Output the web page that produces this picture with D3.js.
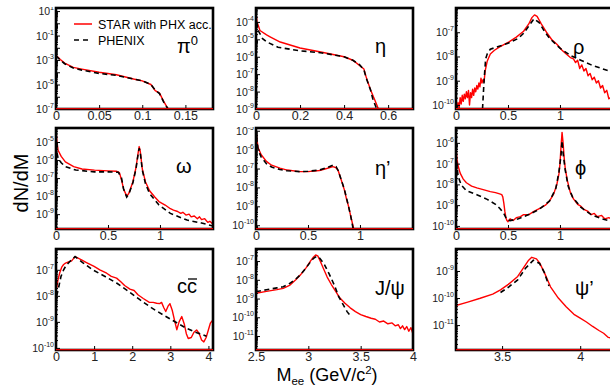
<!DOCTYPE html>
<html><head><meta charset="utf-8">
<script src="https://cdn.jsdelivr.net/npm/d3@7"></script>
<style>
body{margin:0;background:#fff}
svg{display:block}
text{font-family:"Liberation Sans",Arial,sans-serif}
</style>
</head><body>
<svg id="c" width="610" height="389"></svg>
<script>
// ---------- data ----------
const seriesNames = ["STAR with PHX acc.", "PHENIX"];
const panelLabels = ["π0", "η", "ρ", "ω", "η’", "ϕ", "cc̄", "J/ψ", "ψ’"];

const pi0StarM = [0,0.005,0.01,0.02,0.03,0.05,0.07,0.09,0.1,0.11,0.115,0.12,0.125,0.13,0.182];
const pi0StarY = [2.5e-3,1.1e-3,5.6e-4,2.5e-4,1.8e-4,1e-4,6.3e-5,2.8e-5,2e-5,1e-5,3.2e-6,2e-6,4e-7,1e-7,1e-7];
const pi0PhxM = [0,0.005,0.01,0.02,0.03,0.05,0.07,0.09,0.1,0.11,0.115,0.12,0.125,0.13];
const pi0PhxY = [2.2e-3,1e-3,5e-4,2.2e-4,1.5e-4,8e-5,5.6e-5,2.8e-5,2e-5,1e-5,3.5e-6,1.8e-6,3.5e-7,1e-7];

const etaStarM = [0,0.005,0.018,0.048,0.064,0.11,0.2,0.3,0.4,0.44,0.47,0.49,0.5,0.52,0.54,0.556,0.713];
const etaStarY = [3.2e-4,1e-4,3.2e-5,1.8e-5,1.4e-5,7e-6,3.2e-6,1.8e-6,1e-6,6.3e-7,3.2e-7,2e-7,7e-8,1.26e-8,3.2e-9,1e-9,1e-9];
const etaPhxM = [0.003,0.01,0.03,0.05,0.1,0.2,0.3,0.4,0.44,0.47,0.49,0.5,0.52,0.53,0.545,0.55];
const etaPhxY = [1e-4,3.2e-5,1.1e-5,7e-6,3.5e-6,2.2e-6,1.66e-6,1e-6,6.3e-7,3.5e-7,1.8e-7,6.3e-8,1.26e-8,4e-9,1.26e-9,1e-9];

const rhoStarM = [0.01,0.02,0.03,0.04,0.05,0.06,0.07,0.08,0.09,0.1,0.11,0.12,0.13,0.14,0.15,0.16,0.17,0.18,0.19,0.2,0.21,0.22,0.23,0.24,0.25,0.26,0.27,0.28,0.3,0.33,0.37,0.42,0.51,0.58,0.65,0.7,0.73,0.755,0.78,0.82,0.87,0.92,0.97,1.02,1.06,1.1,1.13,1.15,1.17,1.19,1.21,1.23,1.25,1.27,1.29,1.31,1.33,1.35,1.37,1.39,1.41,1.43,1.45,1.47,1.49,1.51];
const rhoStarY = [8e-11,1.26e-10,7e-11,2e-10,1.1e-10,2.5e-10,1.4e-10,2.8e-10,1.8e-10,3.5e-10,2e-10,4e-10,1e-10,3.2e-10,2e-10,4.5e-10,2.5e-10,5e-10,3.5e-10,6.3e-10,4.5e-10,8e-10,5.6e-10,1.26e-9,8e-10,1.1e-9,9e-10,2.5e-9,6.3e-9,1.26e-8,1.8e-8,2.5e-8,4e-8,6.3e-8,1.1e-7,2.2e-7,4e-7,5.2e-7,4.5e-7,2.2e-7,1e-7,5e-8,3.2e-8,1.8e-8,1.26e-8,9e-9,8e-9,5.6e-9,7e-9,3.2e-9,4.5e-9,2.5e-9,3.2e-9,1.6e-9,2e-9,1.1e-9,1.4e-9,8e-10,1e-9,5e-10,6.3e-10,3.2e-10,4e-10,1.8e-10,2e-10,1e-10];
const rhoPhxM = [0.255,0.27,0.285,0.3,0.33,0.4,0.5,0.6,0.65,0.7,0.75,0.8,0.85,0.9,1.0,1.1,1.2,1.3,1.4,1.51];
const rhoPhxY = [6.8e-11,1e-9,8e-9,1.26e-8,2e-8,2.5e-8,3.5e-8,5.6e-8,9e-8,1.8e-7,3.6e-7,2.5e-7,1.1e-7,5.6e-8,2.2e-8,1.1e-8,7e-9,4.5e-9,3.2e-9,2.2e-9];

const omegaStarM = [0,0.01,0.02,0.05,0.09,0.17,0.25,0.37,0.5,0.58,0.61,0.63,0.65,0.68,0.7,0.74,0.77,0.79,0.8,0.81,0.83,0.86,0.9,0.95,0.99,1.05,1.1,1.13,1.17,1.2,1.22,1.25,1.28,1.3,1.33,1.36,1.38,1.4,1.43,1.46,1.48,1.51];
const omegaStarY = [4.5e-5,1e-5,3.5e-6,1.6e-6,7.9e-7,4.3e-7,3.2e-7,2.75e-7,2.5e-7,2.4e-7,2e-7,7.9e-8,2.5e-8,1e-8,1.4e-8,6.3e-8,4e-7,2.5e-6,5.6e-6,3.2e-6,3.2e-7,6.3e-8,2e-8,8.9e-9,5e-9,3.2e-9,2e-9,1.66e-9,1.4e-9,1.1e-9,1.26e-9,8.9e-10,1e-9,7.1e-10,7.9e-10,5.6e-10,7.1e-10,5e-10,5.6e-10,3.5e-10,4e-10,2.8e-10];
const omegaPhxM = [0.01,0.02,0.05,0.09,0.19,0.37,0.5,0.6,0.63,0.65,0.68,0.7,0.74,0.77,0.79,0.8,0.81,0.83,0.86,0.9,0.99,1.1,1.26,1.4,1.51];
const omegaPhxY = [2.5e-6,1.26e-6,7.1e-7,4.3e-7,2.8e-7,2.2e-7,2.2e-7,2.1e-7,1e-7,2.5e-8,8.9e-9,1.26e-8,5.6e-8,3.5e-7,2.2e-6,4.5e-6,2.8e-6,2.8e-7,5e-8,1.4e-8,3.2e-9,1.1e-9,4.7e-10,3.2e-10,2.2e-10];

const etapStarM = [0,0.01,0.02,0.05,0.1,0.15,0.23,0.3,0.42,0.5,0.61,0.68,0.74,0.77,0.79,0.82,0.85,0.87,0.89,0.91,0.94,1.51];
const etapStarY = [1.26e-5,3.2e-6,1.26e-6,5.4e-7,2.4e-7,1.5e-7,1.05e-7,8.3e-8,6.9e-8,6.9e-8,7.9e-8,1e-7,1.26e-7,1.1e-7,7.9e-8,2.5e-8,7.4e-9,2.5e-9,1e-9,3.2e-10,6.3e-11,6.3e-11];
const etapPhxM = [0.005,0.02,0.05,0.1,0.15,0.23,0.3,0.42,0.5,0.61,0.68,0.74,0.77,0.79,0.82,0.85,0.87,0.89,0.91,0.935];
const etapPhxY = [5e-6,1e-6,4e-7,1.8e-7,1.2e-7,8.9e-8,7.6e-8,6.9e-8,7.2e-8,8.3e-8,1.1e-7,1.5e-7,1.26e-7,7.9e-8,2.5e-8,7.9e-9,2.8e-9,1e-9,3.2e-10,6.3e-11];

const phiStarM = [0,0.01,0.02,0.04,0.07,0.1,0.15,0.2,0.27,0.33,0.38,0.42,0.44,0.45,0.46,0.47,0.48,0.49,0.5,0.52,0.55,0.58,0.62,0.65,0.7,0.75,0.81,0.86,0.9,0.94,0.97,0.99,1.0,1.01,1.02,1.03,1.04,1.05,1.07,1.1,1.13,1.17,1.2,1.23,1.27,1.3,1.33,1.36,1.4,1.43,1.47,1.51];
const phiStarY = [6.3e-7,1.6e-7,7.9e-8,3.5e-8,1.8e-8,1.2e-8,8.3e-9,6.8e-9,5.4e-9,4.5e-9,4e-9,3.5e-9,3.2e-9,2.5e-9,1.26e-9,5e-10,2.5e-10,1.8e-10,1.6e-10,2.2e-10,1.8e-10,2.5e-10,2.8e-10,3.5e-10,3.5e-10,5e-10,7.1e-10,1e-9,1.6e-9,3.5e-9,1e-8,3.2e-8,1e-7,6.3e-7,3.2e-6,1e-6,2e-7,6.3e-8,1.6e-8,4e-9,2e-9,1.1e-9,8.9e-10,6.3e-10,5e-10,3.5e-10,4e-10,2.8e-10,3.2e-10,2.2e-10,2.5e-10,2e-10];
const phiPhxM = [0.005,0.02,0.05,0.1,0.2,0.3,0.38,0.42,0.46,0.49,0.52,0.6,0.7,0.8,0.9,0.96,0.99,1.01,1.02,1.03,1.05,1.08,1.12,1.2,1.3,1.4,1.51];
const phiPhxY = [1.26e-7,2.5e-8,9.3e-9,5e-9,3.2e-9,1.9e-9,1.1e-9,7.1e-10,4e-10,2e-10,1.8e-10,2.2e-10,3.5e-10,6.3e-10,1.6e-9,6.3e-9,4e-8,2.5e-7,1.26e-6,3.2e-7,5e-8,7.9e-9,2.5e-9,7.9e-10,3.5e-10,2.2e-10,1.6e-10];

const ccStarM = [0.02,0.05,0.1,0.15,0.2,0.25,0.33,0.41,0.5,0.58,0.67,0.8,1.0,1.15,1.33,1.45,1.59,1.7,1.8,1.94,2.05,2.15,2.29,2.45,2.55,2.64,2.72,2.77,2.83,2.88,2.94,2.99,3.05,3.12,3.17,3.23,3.3,3.37,3.42,3.47,3.55,3.62,3.69,3.76,3.82,3.88,3.94,4.0,4.05,4.1];
const ccStarY = [2e-8,4e-8,7.9e-8,1.26e-7,1.6e-7,1.8e-7,2e-7,2.2e-7,3.2e-7,2.8e-7,2.4e-7,1.9e-7,1.35e-7,1e-7,7.4e-8,5.6e-8,4.8e-8,3.5e-8,2.5e-8,1.8e-8,1.6e-8,1.1e-8,7.9e-9,5.6e-9,5.6e-9,5.2e-9,5e-9,5.6e-9,3.5e-9,2.5e-9,4e-9,5e-9,2.8e-9,1e-9,5e-10,1e-9,1.6e-9,7.9e-10,3.5e-10,2.3e-10,2.5e-10,4e-10,4.9e-10,3.5e-10,2e-10,1.7e-10,2.5e-10,5e-10,8.9e-10,1.1e-9];
const ccPhxM = [0.02,0.08,0.13,0.2,0.25,0.35,0.5,0.7,0.96,1.3,1.59,1.9,2.2,2.5,2.8,3.1,3.41,3.7,3.85,3.95];
const ccPhxY = [1e-8,2.5e-8,5.5e-8,1e-7,1.35e-7,2e-7,3.2e-7,1.9e-7,1e-7,5.4e-8,3.1e-8,1.5e-8,7.1e-9,3.5e-9,1.9e-9,1.05e-9,5.8e-10,3.8e-10,3.2e-10,2.8e-10];

const jpsiStarM = [2.5,2.6,2.7,2.76,2.82,2.88,2.93,2.98,3.02,3.05,3.07,3.09,3.11,3.14,3.18,3.22,3.26,3.3,3.35,3.4,3.45,3.5,3.55,3.6,3.64,3.68,3.72,3.76,3.8,3.83,3.86,3.88,3.9,3.92,3.94,3.96,3.98,4.0];
const jpsiStarY = [1.9e-9,2.4e-9,3e-9,3.5e-9,5e-9,1e-8,2e-8,4.5e-8,1e-7,1.66e-7,2.1e-7,1.9e-7,1.1e-7,4.5e-8,1.4e-8,5.6e-9,2.5e-9,1.1e-9,5.6e-10,3.2e-10,2e-10,1.4e-10,1.1e-10,8.9e-11,7.9e-11,5.6e-11,6.3e-11,4.5e-11,5e-11,3.5e-11,4e-11,2.5e-11,3.5e-11,2.2e-11,3.2e-11,1.8e-11,2.8e-11,1.26e-11];
const jpsiPhxM = [2.5,2.6,2.7,2.76,2.82,2.88,2.93,2.98,3.02,3.05,3.08,3.11,3.15,3.2,3.25,3.29,3.33,3.37,3.4];
const jpsiPhxY = [2.3e-9,2.95e-9,3.7e-9,4.3e-9,6.3e-9,1.1e-8,2e-8,4.5e-8,8.9e-8,1.4e-7,1.8e-7,1.4e-7,7.1e-8,2e-8,5e-9,1.26e-9,5e-10,2e-10,1.26e-10];

const psiStarM = [3.2,3.28,3.36,3.44,3.49,3.54,3.6,3.64,3.67,3.69,3.72,3.74,3.77,3.81,3.86,3.91,3.96,4.0,4.04,4.08,4.12,4.15,4.18,4.21];
const psiStarY = [5.2e-11,7.1e-11,9.8e-11,1.4e-10,2e-10,3.2e-10,6.3e-10,1.4e-9,2.5e-9,3.2e-9,2.8e-9,2e-9,8.9e-10,2.6e-10,1e-10,4.8e-11,2.5e-11,1.8e-11,1.3e-11,8.9e-12,6.3e-12,5e-12,3.5e-12,3.2e-12];
const psiPhxM = [3.49,3.54,3.6,3.65,3.7,3.74,3.77,3.8];
const psiPhxY = [1.6e-10,2.5e-10,4.7e-10,1.26e-9,2.5e-9,1.9e-9,8.9e-10,2.8e-10];

// tick values
const xTickVals = [[0,0.05,0.1,0.15],[0,0.2,0.4,0.6],[0,0.5,1],[0,0.5,1],[0,0.5,1],[0,0.5,1],[0,1,2,3,4],[2.5,3,3.5,4],[3.5,4]];
const yTickExps = [[1,-1,-3,-5,-7],[-4,-5,-6,-7,-8,-9],[-7,-8,-9,-10],[-5,-6,-7,-8,-9],[-5,-6,-7,-8,-9,-10],[-6,-7,-8,-9,-10],[-7,-8,-9,-10],[-7,-8,-9,-10,-11],[-9,-10,-11]];

// ---------- layout ----------
const W = 157, H = 101;
const colX = [56, 256, 456], rowY = [8, 128, 249];
const panels = [
  {sm:pi0StarM, sy:pi0StarY, pm:pi0PhxM, py:pi0PhxY, xd:[0,0.182], yd:[1e-7,17.8]},
  {sm:etaStarM, sy:etaStarY, pm:etaPhxM, py:etaPhxY, xd:[0,0.713], yd:[1e-9,6.3e-4]},
  {sm:rhoStarM, sy:rhoStarY, pm:rhoPhxM, py:rhoPhxY, xd:[0,1.51], yd:[6.8e-11,1e-6]},
  {sm:omegaStarM, sy:omegaStarY, pm:omegaPhxM, py:omegaPhxY, xd:[0,1.51], yd:[1.5e-10,6e-5]},
  {sm:etapStarM, sy:etapStarY, pm:etapPhxM, py:etapPhxY, xd:[0,1.51], yd:[6.3e-11,1.4e-5]},
  {sm:phiStarM, sy:phiStarY, pm:phiPhxM, py:phiPhxY, xd:[0,1.51], yd:[7.1e-11,5.2e-6]},
  {sm:ccStarM, sy:ccStarY, pm:ccPhxM, py:ccPhxY, xd:[0,4.12], yd:[8.3e-11,6.3e-7]},
  {sm:jpsiStarM, sy:jpsiStarY, pm:jpsiPhxM, py:jpsiPhxY, xd:[2.5,4.0], yd:[1.8e-12,4.4e-7]},
  {sm:psiStarM, sy:psiStarY, pm:psiPhxM, py:psiPhxY, xd:[3.205,4.21], yd:[1.2e-12,6.5e-9]}
];
const labelPos = [[121,45],[119,45],[117,46],[120,45],[119,47],[119,47],[121,44],[119,46],[119,46]];

const svg = d3.select("#c");
const defs = svg.append("defs");

panels.forEach((p, i) => {
  const x0 = colX[i % 3], y0 = rowY[Math.floor(i / 3)];
  const g = svg.append("g").attr("transform", `translate(${x0},${y0})`);
  const x = d3.scaleLinear().domain(p.xd).range([0, W]);
  const y = d3.scaleLog().domain(p.yd).range([H, 0]);

  defs.append("clipPath").attr("id", "clip" + i)
    .append("rect").attr("x", 0).attr("y", 0).attr("width", W).attr("height", H);
  defs.append("clipPath").attr("id", "lclip" + i)
    .append("rect").attr("x", -60).attr("y", -1).attr("width", W + 60).attr("height", H + 30);

  const line = d3.line().x(d => x(d[0])).y(d => y(d[1]));
  const plot = g.append("g").attr("clip-path", `url(#clip${i})`);
  plot.append("path").datum(d3.zip(p.sm, p.sy)).attr("d", line)
    .attr("fill", "none").attr("stroke", "#ff0000").attr("stroke-width", 1.4).attr("stroke-linejoin", "round");
  plot.append("path").datum(d3.zip(p.pm, p.py)).attr("d", line)
    .attr("fill", "none").attr("stroke", "#000").attr("stroke-width", 1.6).attr("stroke-dasharray", "5,3.5");

  // minor / major y ticks
  const lo = Math.floor(Math.log10(p.yd[0])), hi = Math.ceil(Math.log10(p.yd[1]));
  const majors = [], minors = [];
  for (let e = lo; e <= hi; e++) {
    const v = Math.pow(10, e);
    if (v >= p.yd[0] && v <= p.yd[1]) majors.push(v);
    for (let k = 2; k <= 9; k++) { const m = k * v; if (m >= p.yd[0] && m <= p.yd[1]) minors.push(m); }
  }
  const ax = g.append("g");
  ax.call(d3.axisLeft(y).tickValues(minors).tickSize(-2).tickFormat(""));
  ax.select(".domain").remove();
  const ax2 = g.append("g");
  ax2.call(d3.axisLeft(y).tickValues(majors).tickSize(-4).tickFormat(""));
  ax2.select(".domain").remove();
  g.selectAll("line").attr("stroke", "#000");

  // y labels with superscripts
  const yl = g.append("g").attr("clip-path", `url(#lclip${i})`);
  yTickExps[i].forEach(e => {
    const t = yl.append("text").attr("x", -2).attr("y", y(Math.pow(10, e)) + 4)
      .attr("text-anchor", "end").attr("fill", "#222").attr("font-size", 10.5);
    t.append("tspan").text("10");
    t.append("tspan").attr("dy", -5).attr("font-size", 7).text(String(e));
  });

  // x axis
  const xa = g.append("g").attr("transform", `translate(0,${H})`);
  xa.call(d3.axisBottom(x).tickValues(xTickVals[i]).tickSize(-4).tickPadding(2).tickFormat(d => String(d)));
  xa.select(".domain").remove();
  xa.selectAll("text").attr("font-size", 12.5).attr("fill", "#222").attr("font-family", '"Liberation Sans",Arial,sans-serif');
  xa.selectAll("line").attr("stroke", "#000");

  // frame
  g.append("rect").attr("width", W).attr("height", H).attr("fill", "none")
    .attr("stroke", "#000").attr("stroke-width", 2.6);
  g.append("line").attr("x1", 0).attr("x2", W).attr("y1", H - 0.3).attr("y2", H - 0.3)
    .attr("stroke", "#e00000").attr("stroke-width", 1.3);

  // panel label
  const [lx, ly] = labelPos[i];
  const lt = g.append("text").attr("x", lx).attr("y", ly).attr("font-size", 20).attr("fill", "#000");
  const lab = panelLabels[i];
  if (i === 0) {
    lt.append("tspan").text("π");
    lt.append("tspan").attr("dy", -8).attr("font-size", 13).text("0");
  } else if (i === 6) {
    lt.append("tspan").text("c");
    lt.append("tspan").text("c");
    g.append("line").attr("x1", lx + 11).attr("x2", lx + 20).attr("y1", ly - 14).attr("y2", ly - 14)
      .attr("stroke", "#000").attr("stroke-width", 1.3);
  } else {
    lt.text(lab);
  }
});

// legend (panel 1)
const lg = svg.append("g");
lg.append("line").attr("x1", 74).attr("x2", 92).attr("y1", 24).attr("y2", 24)
  .attr("stroke", "#ff0000").attr("stroke-width", 1.5);
lg.append("text").attr("x", 98).attr("y", 28.5).attr("font-size", 12.5).text(seriesNames[0]);
lg.append("line").attr("x1", 74).attr("x2", 92).attr("y1", 40).attr("y2", 40)
  .attr("stroke", "#000").attr("stroke-width", 1.6).attr("stroke-dasharray", "5,4");
lg.append("text").attr("x", 98).attr("y", 44.5).attr("font-size", 12.5).text(seriesNames[1]);

// axis titles
svg.append("text").attr("transform", "translate(28,183) rotate(-90)")
  .attr("text-anchor", "middle").attr("font-size", 20).text("dN/dM");
const xt = svg.append("text").attr("x", 327).attr("y", 381).attr("text-anchor", "middle").attr("font-size", 18);
xt.append("tspan").text("M");
xt.append("tspan").attr("dy", 4).attr("font-size", 11.5).text("ee");
xt.append("tspan").attr("dy", -4).text(" (GeV/c");
xt.append("tspan").attr("dy", -7).attr("font-size", 11.5).text("2");
xt.append("tspan").attr("dy", 7).text(")");
</script>
</body></html>
